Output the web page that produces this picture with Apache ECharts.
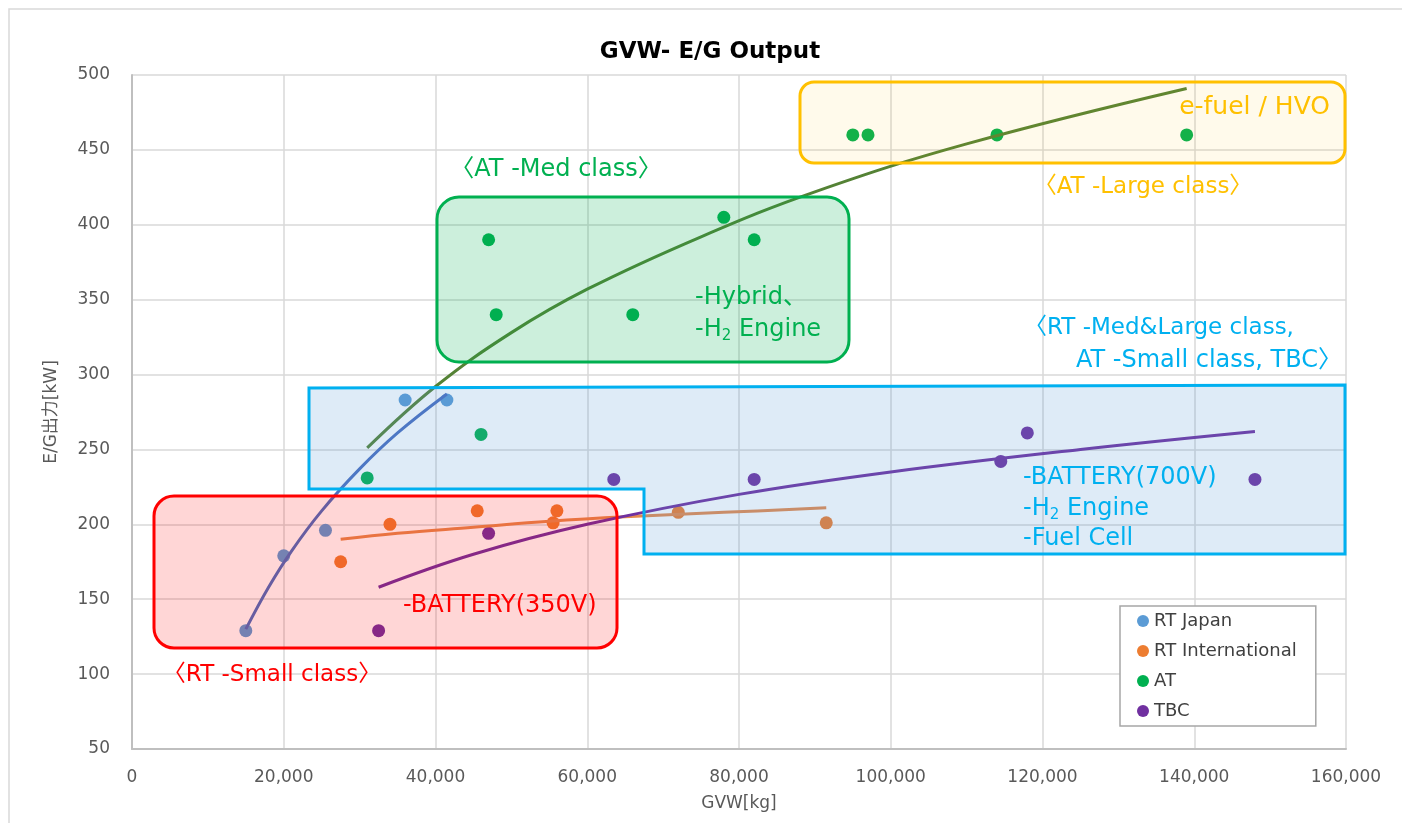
<!DOCTYPE html>
<html>
<head>
<meta charset="utf-8">
<script src="https://cdn.jsdelivr.net/npm/echarts@6/dist/echarts.min.js"></script>
<style>
html,body{margin:0;padding:0;background:#fff;}
#c{width:1402px;height:823px;}
</style>
</head>
<body>
<div id="c"></div>
<script>
// ---- data ----
const seriesNames = ['RT Japan', 'RT International', 'AT', 'TBC'];
const seriesColors = ['#5B9BD5', '#ED7D31', '#00B050', '#7030A0'];
const trendColors = ['#4A6FC0', '#E58A4E', '#548235', '#7030A0'];

const rtJapanX = [15000, 20000, 25500, 36000, 41500];
const rtJapanY = [129, 179, 196, 283, 283];

const rtIntlX = [27500, 34000, 45500, 55500, 56000, 72000, 91500];
const rtIntlY = [175, 200, 209, 201, 209, 208, 201];

const atX = [31000, 46000, 47000, 48000, 66000, 78000, 82000, 95000, 97000, 114000, 139000];
const atY = [231, 260, 390, 340, 340, 405, 390, 460, 460, 460, 460];

const tbcX = [32500, 47000, 63500, 82000, 114500, 118000, 148000];
const tbcY = [129, 194, 230, 230, 242, 261, 230];

// trendlines (log trend curves)
const rtJapanTrendX = [15000, 18000, 21000, 25000, 30000, 35000, 41500];
const rtJapanTrendY = [130, 158, 182, 209, 237, 261, 287];
const rtIntlTrendX = [27500, 35000, 45000, 55000, 65000, 78000, 91500];
const rtIntlTrendY = [190, 194, 198, 202, 205, 208, 211];
const atTrendX = [31000, 40000, 50000, 60000, 75000, 90000, 110000, 139000];
const atTrendY = [251, 292, 328, 357, 392, 422, 454, 491];
const tbcTrendX = [32500, 45000, 60000, 80000, 100000, 125000, 148000];
const tbcTrendY = [158, 180, 200, 220, 235, 250, 262];

const xMin = 0, xMax = 160000, xStep = 20000;
const yMin = 50, yMax = 500, yStep = 50;

const titleText = 'GVW- E/G Output';
const xName = 'GVW[kg]';
const yName = 'E/G出力[kW]';

// ---- build ----
const zip = (xs, ys) => xs.map((x, i) => [x, ys[i]]);
const pts = [zip(rtJapanX, rtJapanY), zip(rtIntlX, rtIntlY), zip(atX, atY), zip(tbcX, tbcY)];
const trends = [zip(rtJapanTrendX, rtJapanTrendY), zip(rtIntlTrendX, rtIntlTrendY),
                zip(atTrendX, atTrendY), zip(tbcTrendX, tbcTrendY)];

const FONT = '"DejaVu Sans", "Noto Sans CJK JP", sans-serif';

const series = [];
seriesNames.forEach((n, i) => {
  series.push({
    name: n, type: 'scatter', data: pts[i], symbol: 'circle', symbolSize: 13,
    itemStyle: { color: seriesColors[i], opacity: 1 }, z: 3
  });
});
seriesNames.forEach((n, i) => {
  series.push({
    name: n + ' trend', type: 'line', data: trends[i], showSymbol: false, smooth: 0.4,
    lineStyle: { color: trendColors[i], width: 3 }, itemStyle: { color: trendColors[i] },
    z: 4, silent: true
  });
});

function txt(x, y, text, color, size, align) {
  return {
    type: 'text', x: x, y: y, z: 120,
    style: {
      text: text, fill: color, fontSize: size, fontFamily: FONT,
      align: align || 'left', verticalAlign: 'middle',
      rich: { sub: { fontSize: Math.round(size * 0.62), fill: color, fontFamily: FONT,
                     padding: [Math.round(size * 0.5), 0, 0, 0] } }
    }
  };
}

const graphics = [
  { type: 'rect', z: 0, shape: { x: 9, y: 9, width: 1420, height: 840 },
    style: { fill: 'none', stroke: '#D9D9D9', lineWidth: 1.5 } },
  { type: 'text', x: 710, y: 52, z: 120,
    style: { text: titleText, fill: '#000', fontSize: 23, fontWeight: 'bold', fontFamily: FONT,
             align: 'center', verticalAlign: 'middle' } },
  // boxes
  { type: 'rect', z: 100, shape: { x: 154, y: 496, width: 463, height: 152, r: 20 },
    style: { fill: 'rgba(255,0,0,0.16)', stroke: '#FF0000', lineWidth: 3 } },
  { type: 'rect', z: 100, shape: { x: 437, y: 197, width: 412, height: 165, r: 22 },
    style: { fill: 'rgba(0,176,80,0.2)', stroke: '#00B050', lineWidth: 3 } },
  { type: 'rect', z: 100, shape: { x: 800, y: 82, width: 545, height: 81, r: 14 },
    style: { fill: 'rgba(255,192,0,0.08)', stroke: '#FFC000', lineWidth: 3 } },
  { type: 'polygon', z: 100,
    shape: { points: [[309, 388], [1345, 385], [1345, 554], [644, 554], [644, 489], [309, 489]] },
    style: { fill: 'rgba(91,155,213,0.2)', stroke: '#00B0F0', lineWidth: 3 } },
  // annotation texts
  txt(556, 170, '〈AT -Med class〉', '#00B050', 24, 'center'),
  txt(695, 298, '-Hybrid、', '#00B050', 24, 'left'),
  txt(695, 330, '-H{sub|2} Engine', '#00B050', 24, 'left'),
  txt(1330, 107, 'e-fuel / HVO', '#FFC000', 25, 'right'),
  txt(1143, 187, '〈AT -Large class〉', '#FFC000', 23, 'center'),
  txt(1024, 328, '〈RT -Med&Large class,', '#00B0F0', 23, 'left'),
  txt(1342, 361, 'AT -Small class, TBC〉', '#00B0F0', 24, 'right'),
  txt(1023, 478, '-BATTERY(700V)', '#00B0F0', 24, 'left'),
  txt(1023, 509, '-H{sub|2} Engine', '#00B0F0', 24, 'left'),
  txt(1023, 539, '-Fuel Cell', '#00B0F0', 24, 'left'),
  txt(403, 606, '-BATTERY(350V)', '#FF0000', 24, 'left'),
  txt(272, 675, '〈RT -Small class〉', '#FF0000', 23, 'center')
];

const chart = echarts.init(document.getElementById('c'), null, { renderer: 'canvas' });
chart.setOption({
  backgroundColor: '#fff',
  animation: false,
  textStyle: { fontFamily: FONT },
  grid: { left: 132, right: 56, top: 75, bottom: 74, containLabel: false },
  legend: {
    data: seriesNames.map(n => ({ name: n, icon: 'circle' })),
    orient: 'vertical', left: 1120, top: 606,
    padding: [5, 19, 5, 17], itemGap: 10, itemWidth: 12, itemHeight: 12,
    borderColor: '#A6A6A6', borderWidth: 1.5, backgroundColor: '#fff',
    textStyle: { fontSize: 18, color: '#404040', fontFamily: FONT, lineHeight: 20 },
    z: 130
  },
  xAxis: {
    type: 'value', min: xMin, max: xMax, interval: xStep,
    name: xName, nameLocation: 'middle', nameGap: 46,
    nameTextStyle: { fontSize: 17, color: '#595959', fontFamily: FONT },
    axisLine: { show: true, lineStyle: { color: '#BFBFBF', width: 2 } },
    axisTick: { show: false },
    axisLabel: { fontSize: 17, color: '#595959', margin: 20, fontFamily: FONT,
                 formatter: v => v.toLocaleString('en-US') },
    splitLine: { show: true, lineStyle: { color: '#D9D9D9', width: 1.5 } }
  },
  yAxis: {
    type: 'value', min: yMin, max: yMax, interval: yStep,
    name: yName, nameLocation: 'middle', nameGap: 72, nameRotate: 90,
    nameTextStyle: { fontSize: 17, color: '#595959', fontFamily: FONT },
    axisLine: { show: true, lineStyle: { color: '#BFBFBF', width: 2 } },
    axisTick: { show: false },
    axisLabel: { fontSize: 17, color: '#595959', margin: 22, fontFamily: FONT },
    splitLine: { show: true, lineStyle: { color: '#D9D9D9', width: 1.5 } }
  },
  series: series,
  graphic: { elements: graphics }
});
</script>
</body>
</html>
